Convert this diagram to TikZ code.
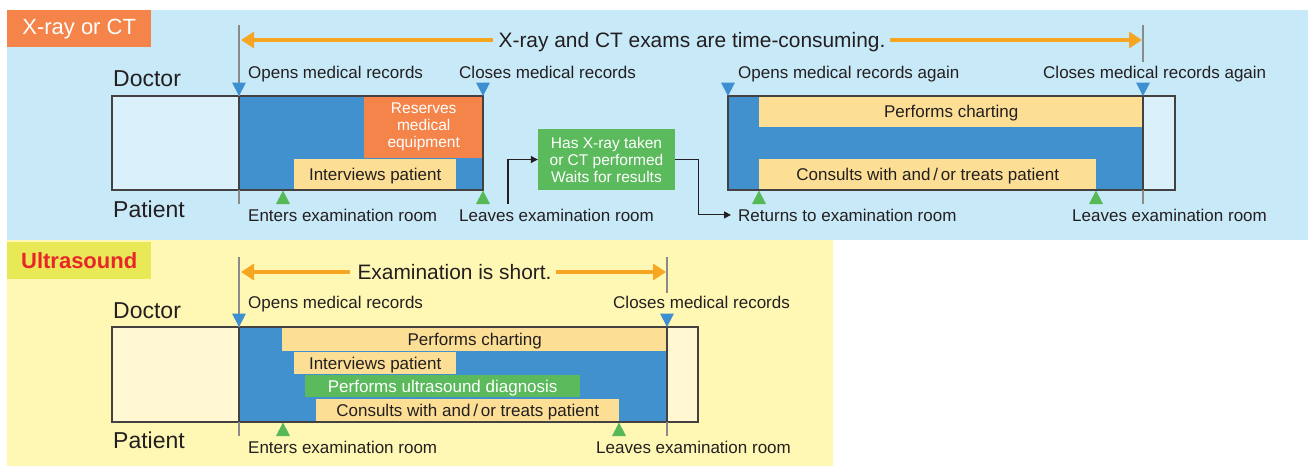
\documentclass[tikz,border=0pt]{standalone}
\usepackage{fontspec}
\setmainfont{Liberation Sans}
\usetikzlibrary{arrows.meta}
\definecolor{pblue}{HTML}{C8E9F8}
\definecolor{lightb}{HTML}{DAF0FA}
\definecolor{mblue}{HTML}{4191CE}
\definecolor{xorange}{HTML}{F4844A}
\definecolor{pyellow}{HTML}{FFF8B4}
\definecolor{lighty}{HTML}{FFF8D2}
\definecolor{ulab}{HTML}{E9E957}
\definecolor{ured}{HTML}{E8262A}
\definecolor{ybar}{HTML}{FCDF94}
\definecolor{gbox}{HTML}{5BBA5C}
\definecolor{oarrow}{HTML}{F6A623}
\definecolor{tblue}{HTML}{3D8FD1}
\definecolor{tgreen}{HTML}{57B857}
\definecolor{txt}{HTML}{231F20}
\definecolor{vgrey}{HTML}{8A8A8A}
\begin{document}
\begin{tikzpicture}[x=1pt,y=-1pt,
  lbl/.style={anchor=base west, inner sep=0, text=txt, font=\fontsize{17}{20}\selectfont},
  role/.style={anchor=base west, inner sep=0, text=txt, font=\fontsize{23}{27}\selectfont},
  head/.style={anchor=base, inner sep=0, text=txt, font=\fontsize{20.9}{24}\selectfont},
  bar/.style={anchor=north west, inner sep=0, fill=ybar, text=txt, text height=12.2pt, text depth=0pt, font=\fontsize{17}{20}\selectfont},
  gbar/.style={bar, fill=gbox, text=white},
  resbox/.style={anchor=north west, inner sep=0, fill=xorange, text=white, align=center, font=\fontsize{15.5}{17}\selectfont},
  greenbox/.style={inner sep=0, fill=gbox, text=white, align=center, minimum width=137, minimum height=61, font=\fontsize{15.5}{17}\selectfont},
  frame/.style={draw=txt!85, line width=1.4pt},
  vline/.style={draw=vgrey, line width=1.3pt},
  oarr/.style={draw=oarrow, line width=4pt, -{Triangle[length=13pt,width=16pt]}},
  conn/.style={draw=txt, line width=1.1pt, -{Triangle[length=7pt,width=7pt]}},
  pics/tdown/.style={code={\fill[tblue] (0,0) -- (-7,-13.5) -- (7,-13.5) -- cycle;}},
  pics/tup/.style={code={\fill[tgreen] (0,0) -- (-7,13.5) -- (7,13.5) -- cycle;}}
]
\useasboundingbox (0,0) rectangle (1308,466);
\fill[white] (0,0) rectangle (1308,466);
% ---------- panels ----------
\fill[pblue] (7,10) rectangle (1308,240);
\fill[pyellow] (7,240) rectangle (833,466);
\node[anchor=north west, fill=xorange, minimum width=144, minimum height=37, inner sep=0, text=white, font=\fontsize{22}{26}\selectfont] (xlab) at (7,10) {X-ray or CT};
\node[anchor=north west, fill=ulab, minimum width=144, minimum height=37, inner sep=0, text=ured, font=\bfseries\fontsize{22}{26}\selectfont] (ulab) at (7,242) {Ultrasound};

% ================= TOP PANEL =================
\coordinate (A1) at (239,40);
\coordinate (A2) at (1143,40);
\node[head] (hdr1) at (692,47) {X-ray and CT exams are time-consuming.};
\draw[oarr] (hdr1.west |- A1) ++(-5,0) -- ([xshift=2pt]A1);
\draw[oarr] (hdr1.east |- A2) ++(4,0) -- ([xshift=-1pt]A2);

\node[role] (doc1) at (113,86) {Doctor};
\node[role] (pat1) at (113,217) {Patient};

% box 1
\fill[lightb] (112,96) rectangle (239,190);
\fill[mblue] (239,96) rectangle (483,190);
\node[resbox, minimum width=119, minimum height=62] (res) at (364,96) {Reserves\\medical\\equipment};
\node[bar, minimum width=162, minimum height=31.5] (int1) at (294,158.5) {Interviews patient};
\draw[frame] (112,96) rectangle (483,190);
\draw[frame] (239,96) -- (239,190);
\draw[vline] (239,25) -- (239,96);
\draw[vline] (239,190) -- (239,204);
\pic at (239,96) {tdown};
\pic at (483,96) {tdown};
\pic at (283,190.5) {tup};
\pic at (483,190.5) {tup};
\node[lbl] (open1) at (248,78) {Opens medical records};
\node[lbl] (close1) at (459,78) {Closes medical records};
\node[lbl] (ent1) at (248,221) {Enters examination room};
\node[lbl] (leave1) at (459,221) {Leaves examination room};

% green box and connectors
\node[greenbox] (gx) at (606.5,159.5) {Has X-ray taken\\or CT performed\\Waits for results};
\node[lbl] (ret) at (738,221) {Returns to examination room};
\coordinate (c1) at (508,204);
\draw[conn] (c1) |- (gx.west);
\draw[conn] (gx.east) -- ++(23,0) |- ([xshift=-7pt]ret.west);

% box 2
\fill[mblue] (728,96) rectangle (1143,190);
\fill[lightb] (1143,96) rectangle (1175,190);
\node[bar, minimum width=384, minimum height=31] (chart1) at (759,96) {Performs charting};
\node[bar, minimum width=337, minimum height=31] (cons1) at (759,159) {Consults with and\,/\,or treats patient};
\draw[frame] (728,96) rectangle (1175,190);
\draw[frame] (1143,96) -- (1143,190);
\draw[vline] (1143,25) -- (1143,62);
\draw[vline] (1143,190) -- (1143,204);
\pic at (728,96) {tdown};
\pic at (1143,96) {tdown};
\pic at (759,190.5) {tup};
\pic at (1096,190.5) {tup};
\node[lbl] (open2) at (738,78) {Opens medical records again};
\node[lbl] (close2) at (1043,78) {Closes medical records again};
\node[lbl] (leave2) at (1072,221) {Leaves examination room};

% ================= BOTTOM PANEL =================
\coordinate (B1) at (239,272);
\coordinate (B2) at (667,272);
\node[head] (hdr2) at (454.5,279) {Examination is short.};
\draw[oarr] (hdr2.west |- B1) ++(-7,0) -- ([xshift=2pt]B1);
\draw[oarr] (hdr2.east |- B2) ++(4,0) -- ([xshift=-1pt]B2);

\node[role] (doc2) at (113,318) {Doctor};
\node[role] (pat2) at (113,448) {Patient};

\fill[lighty] (112,327) rectangle (239,422);
\fill[mblue] (239,327) rectangle (667,422);
\fill[lighty] (667,327) rectangle (698,422);
\node[bar, minimum width=385, minimum height=24] (chart2) at (282,327) {Performs charting};
\node[bar, minimum width=162, minimum height=22.5] (int2) at (294,351.5) {Interviews patient};
\node[gbar, minimum width=275, minimum height=22] (us) at (305,375) {Performs ultrasound diagnosis};
\node[bar, minimum width=303, minimum height=23] (cons2) at (316,399) {Consults with and\,/\,or treats patient};
\draw[frame] (112,327) rectangle (698,422);
\draw[frame] (239,327) -- (239,422);
\draw[frame] (667,327) -- (667,422);
\draw[vline] (239,257) -- (239,327);
\draw[vline] (239,422) -- (239,436);
\draw[vline] (667,257) -- (667,293);
\draw[vline] (667,422) -- (667,436);
\pic at (239,327) {tdown};
\pic at (667,327) {tdown};
\pic at (283,422.5) {tup};
\pic at (619,422.5) {tup};
\node[lbl] (open3) at (248,308) {Opens medical records};
\node[lbl] (close3) at (613,308) {Closes medical records};
\node[lbl] (ent3) at (248,453) {Enters examination room};
\node[lbl] (leave3) at (596,453) {Leaves examination room};
\end{tikzpicture}
\end{document}
